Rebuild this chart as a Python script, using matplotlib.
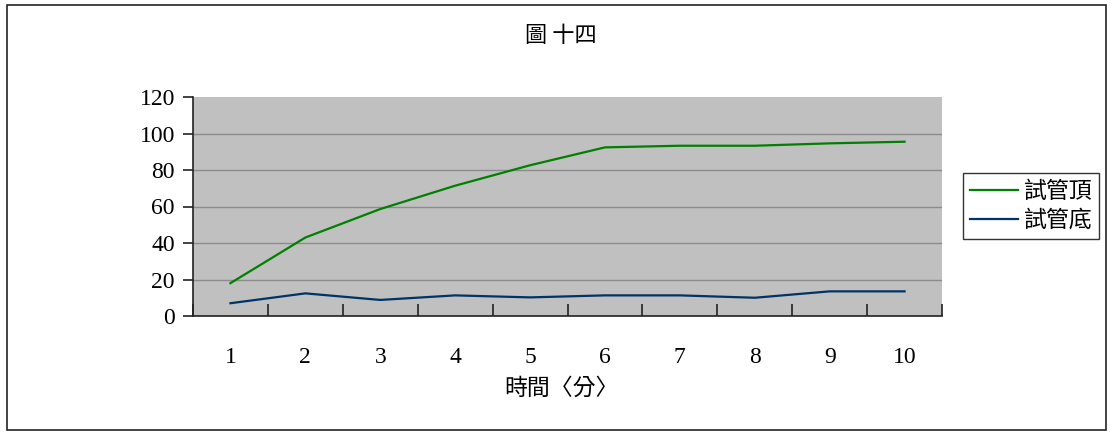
"""圖 十四：試管頂與試管底隨時間的變化。"""

import matplotlib

matplotlib.use("Agg")
import matplotlib.pyplot as plt
from matplotlib.patches import Rectangle

plt.rcParams["font.family"] = ["Liberation Serif", "Noto Sans CJK TC", "DejaVu Sans"]

# 資料
minutes = [1, 2, 3, 4, 5, 6, 7, 8, 9, 10]
tube_top = [18, 43, 58.6, 71.4, 82.6, 92.4, 93.3, 93.3, 94.6, 95.5]
tube_bottom = [7, 12.4, 8.8, 11.3, 10.2, 11.3, 11.3, 10.0, 13.5, 13.5]
y_ticks = [0, 20, 40, 60, 80, 100, 120]

title = "圖 十四"
x_label = "時間〈分〉"
series_names = ["試管頂", "試管底"]

CJK = ["Noto Sans CJK TC", "DejaVu Sans"]


def main() -> None:
    W, H = 1110, 432
    fig = plt.figure(figsize=(W / 100, H / 100), dpi=100)
    ax = fig.add_axes([193 / W, 1 - 316 / H, (942 - 193) / W, (316 - 97) / H])
    ax.set_facecolor("#C0C0C0")

    x = list(range(1, len(minutes) + 1))
    l1, = ax.plot(x, tube_top, color="#008000", lw=1.6)
    l2, = ax.plot(x, tube_bottom, color="#003366", lw=1.6)

    ax.set_xlim(0.5, len(minutes) + 0.5)
    ax.set_ylim(0, 120)
    ax.set_yticks(y_ticks)
    ax.set_yticklabels([str(v) for v in y_ticks], fontsize=17)
    ax.yaxis.grid(True, color="#8C8C8C", lw=1.0)
    ax.get_ygridlines()[-1].set_visible(False)
    ax.set_axisbelow(True)

    ax.set_xticks(x)
    ax.set_xticklabels([str(m) for m in minutes], fontsize=17)
    ax.set_xticks([i + 0.5 for i in range(len(minutes) + 1)], minor=True)
    ax.tick_params(axis="x", which="major", length=0, pad=22)
    ax.tick_params(axis="x", which="minor", direction="in", length=9, width=1.2, color="#222222")
    ax.tick_params(axis="y", direction="out", length=7, width=1.2, color="#222222", pad=6)

    for side in ("top", "right"):
        ax.spines[side].set_visible(False)
    for side in ("left", "bottom"):
        ax.spines[side].set_color("#222222")
        ax.spines[side].set_linewidth(1.2)

    fig.text(561 / W, 1 - 35 / H, title, ha="center", va="center", fontsize=16, family=CJK)
    fig.text(561 / W, 1 - 388 / H, x_label, ha="center", va="center", fontsize=16.5, family=CJK)

    leg = fig.legend([l1, l2], series_names, loc="center left",
                     bbox_to_anchor=(963 / W, 1 - 206 / H), frameon=True, fancybox=False,
                     edgecolor="black", handlelength=2.1, handletextpad=0.25,
                     borderpad=0.3, labelspacing=0.25, borderaxespad=0,
                     prop={"family": CJK, "size": 16.5})
    leg.get_frame().set_linewidth(1.0)

    fig.patches.append(Rectangle((7 / W, 2 / H), (1106 - 7) / W, (430 - 5) / H,
                                 transform=fig.transFigure, fill=False,
                                 edgecolor="#222222", lw=1.2))

    fig.savefig("out.png", dpi=100)


if __name__ == "__main__":
    main()
